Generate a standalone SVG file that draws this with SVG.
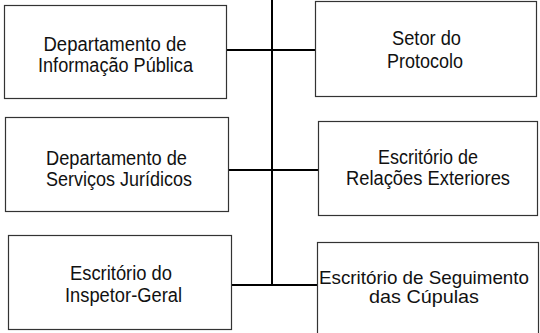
<svg xmlns="http://www.w3.org/2000/svg" width="540" height="333" viewBox="0 0 540 333">
<style>
.box{fill:#fff;stroke:#333;stroke-width:1.2}
.conn{fill:none;stroke:#000;stroke-width:2}
text{font-family:"Liberation Sans",Arial,sans-serif;font-size:20px;fill:#111;text-anchor:middle}
.s{font-size:19px}
</style>
<rect width="540" height="333" fill="#fff"/>
<g id="connectors">
<line class="conn" x1="272" y1="0" x2="272" y2="286"/>
<line class="conn" x1="227" y1="50" x2="315" y2="50"/>
<line class="conn" x1="229" y1="170" x2="318" y2="170"/>
<line class="conn" x1="232" y1="285" x2="317" y2="285"/>
</g>
<g id="n1">
<rect class="box" x="4.5" y="5.5" width="222" height="93"/>
<text x="115" y="51" textLength="143" lengthAdjust="spacingAndGlyphs">Departamento de</text>
<text x="115.5" y="72" textLength="155" lengthAdjust="spacingAndGlyphs">Informação Pública</text>
</g>
<g id="n2">
<rect class="box" x="315.5" y="1.5" width="221" height="95"/>
<text x="426.5" y="45" textLength="69" lengthAdjust="spacingAndGlyphs">Setor do</text>
<text x="425" y="68" textLength="76" lengthAdjust="spacingAndGlyphs">Protocolo</text>
</g>
<g id="n3">
<rect class="box" x="5.5" y="117.5" width="223" height="94"/>
<text x="116.5" y="165" textLength="141" lengthAdjust="spacingAndGlyphs">Departamento de</text>
<text x="119" y="186" textLength="146" lengthAdjust="spacingAndGlyphs">Serviços Jurídicos</text>
</g>
<g id="n4">
<rect class="box" x="318.5" y="121.5" width="219" height="94"/>
<text x="428" y="164" textLength="100" lengthAdjust="spacingAndGlyphs">Escritório de</text>
<text x="428" y="185" textLength="164" lengthAdjust="spacingAndGlyphs">Relações Exteriores</text>
</g>
<g id="n5">
<rect class="box" x="8.5" y="235.5" width="223" height="94"/>
<text x="121" y="280" textLength="102" lengthAdjust="spacingAndGlyphs">Escritório do</text>
<text x="123.5" y="302" textLength="117" lengthAdjust="spacingAndGlyphs">Inspetor-Geral</text>
</g>
<g id="n6">
<rect class="box" x="317.5" y="242.5" width="221" height="100"/>
<text class="s" x="424" y="284" textLength="210" lengthAdjust="spacingAndGlyphs">Escritório de Seguimento</text>
<text class="s" x="424" y="303" textLength="110" lengthAdjust="spacingAndGlyphs">das Cúpulas</text>
</g>
</svg>
